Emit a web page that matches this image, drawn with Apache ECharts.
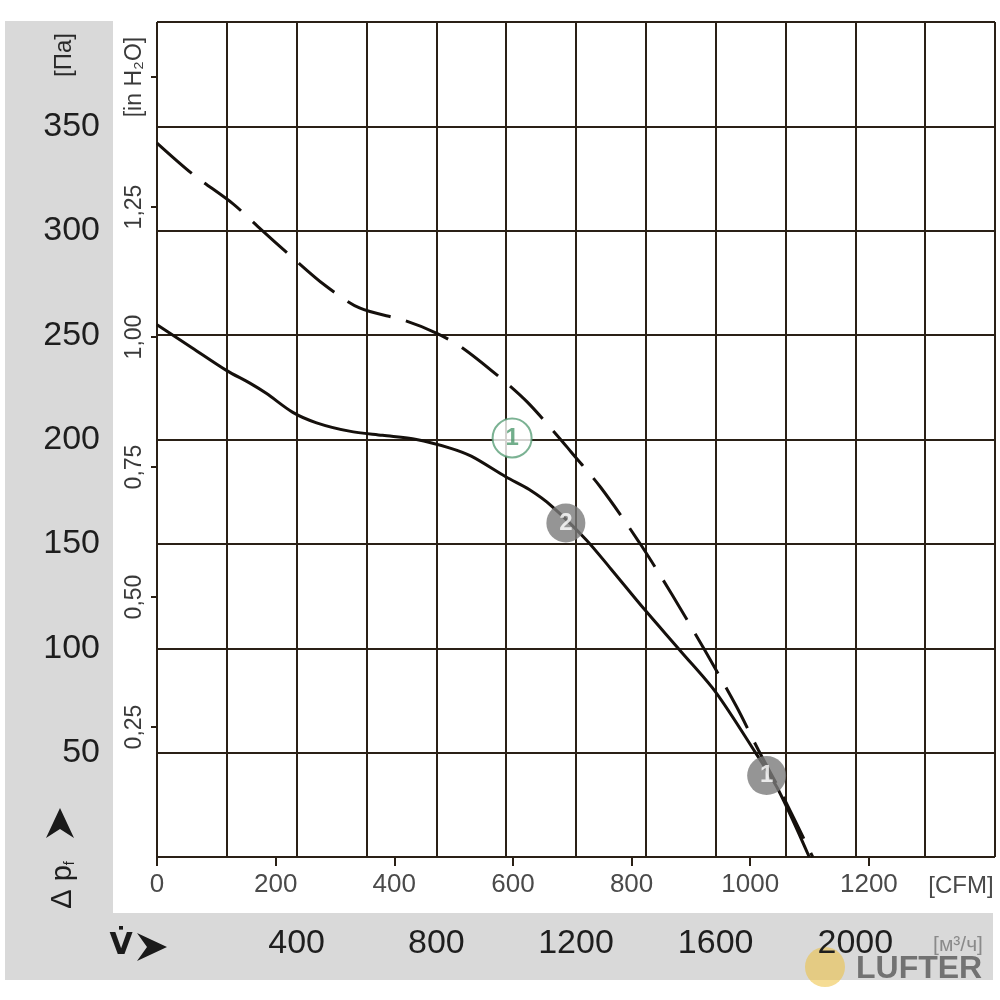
<!DOCTYPE html>
<html><head><meta charset="utf-8">
<script src="https://cdn.jsdelivr.net/npm/echarts@6/dist/echarts.min.js"></script>
<style>html,body{margin:0;padding:0;background:#fff}#c{width:1000px;height:1000px}</style>
</head><body><div id="c"></div>
<script>
const FONT = '"Liberation Sans", Arial, sans-serif';

// Curve 1 (dashed) : flow [m³/h] vs static pressure [Pa]
const curve1Flow     = [0, 103, 217, 289, 389, 480, 580, 709, 800, 874, 980, 1060, 1151, 1186, 1271, 1380, 1474, 1569, 1660, 1723, 1790, 1878];
const curve1Pressure = [342, 327, 313, 302, 287, 274, 263, 257, 251, 244, 230, 218, 201, 194, 177, 151, 126, 99, 72, 51, 30, 0];
// Curve 2 (solid)
const curve2Flow     = [0, 100, 200, 266, 314, 389, 457, 551, 646, 743, 837, 900, 1000, 1066, 1131, 1229, 1300, 1394, 1503, 1600, 1714, 1780, 1868];
const curve2Pressure = [255, 244, 233, 227, 222, 213, 208, 204, 202, 200, 196, 192, 182, 176, 168, 152, 138, 119, 98, 79, 50, 32, 0];
// Operating point markers
const markerNames    = ['1', '2', '1'];
const markerFlow     = [1017, 1171, 1746];
const markerPressure = [200.7, 160, 39];
const markerKinds    = ['outline', 'filled', 'filled'];

// Axis ticks / labels
const paMax = 400, paStep = 50;
const flowMax = 2400, flowStep = 200;
const flowLabels = [400, 800, 1200, 1600, 2000];
const cfmTicks = [0, 200, 400, 600, 800, 1000, 1200];
const inH2OTicks = [0.25, 0.5, 0.75, 1.0, 1.25, 1.5];
const M3H_PER_CFM = 1.69901;
const PA_PER_INH2O = 249.0889;

const zip = (a, b) => a.map((v, i) => [v, b[i]]);
const LINE = '#2a2016';

const markerData = markerNames.map((n, i) => ({
  name: n,
  value: [markerFlow[i], markerPressure[i]],
  itemStyle: markerKinds[i] === 'outline'
    ? { color: '#ffffff', borderColor: '#5a9f78', borderWidth: 2 }
    : { color: '#7a7a7a', borderWidth: 0 },
  label: { color: markerKinds[i] === 'outline' ? '#4f9a6e' : '#ffffff' }
}));

const chart = echarts.init(document.getElementById('c'), null, { renderer: 'canvas' });
chart.setOption({
  animation: false,
  backgroundColor: '#ffffff',
  grid: { left: 157, right: 5, top: 22, bottom: 143, containLabel: false, outerBoundsMode: 'none' },
  xAxis: [
    { type: 'value', min: 0, max: flowMax, interval: flowStep, position: 'bottom',
      axisLine: { show: false }, axisTick: { show: false },
      splitLine: { show: true, lineStyle: { color: LINE, width: 2 } },
      axisLabel: { customValues: flowLabels, margin: 70, fontFamily: FONT, fontSize: 34, color: '#1e1e1e',
        formatter: v => String(v) } },
    { type: 'value', min: 0, max: flowMax / M3H_PER_CFM, position: 'bottom',
      axisLine: { show: false }, splitLine: { show: false },
      axisTick: { show: true, customValues: cfmTicks, length: 9, lineStyle: { color: LINE, width: 2 } },
      axisLabel: { customValues: cfmTicks, margin: 15, fontFamily: FONT, fontSize: 26, color: '#4a4a4a',
        formatter: v => String(v) } }
  ],
  yAxis: [
    { type: 'value', min: 0, max: paMax, interval: paStep, position: 'left',
      axisLine: { show: false }, axisTick: { show: false },
      splitLine: { show: true, lineStyle: { color: LINE, width: 2 } },
      axisLabel: { margin: 57, fontFamily: FONT, fontSize: 34, color: '#1e1e1e',
        formatter: v => (v > 0 && v < paMax) ? String(v) : '' } },
    { type: 'value', min: 0, max: paMax / PA_PER_INH2O, position: 'left', offset: 0,
      axisLine: { show: false }, splitLine: { show: false },
      axisTick: { show: true, customValues: inH2OTicks, length: 6, lineStyle: { color: LINE, width: 2 } },
      axisLabel: { customValues: inH2OTicks, rotate: 90, margin: 11, fontFamily: FONT, fontSize: 23, color: '#3a3a3a',
        formatter: v => Math.abs(v - 1.5) < 1e-6 ? '[in H₂O]' : v.toFixed(2).replace('.', ',') } }
  ],
  series: [
    { type: 'line', name: 'curve1', xAxisIndex: 0, yAxisIndex: 0, data: zip(curve1Flow, curve1Pressure),
      smooth: 0.3, symbol: 'none', z: 5,
      lineStyle: { color: '#15100c', width: 3, type: [46, 16] } },
    { type: 'line', name: 'curve2', xAxisIndex: 0, yAxisIndex: 0, data: zip(curve2Flow, curve2Pressure),
      smooth: 0.3, symbol: 'none', z: 5,
      lineStyle: { color: '#15100c', width: 3, type: 'solid' } },
    { type: 'scatter', name: 'points', xAxisIndex: 0, yAxisIndex: 0, data: markerData,
      symbol: 'circle', symbolSize: 39, z: 10,
      label: { show: true, position: 'inside', formatter: p => p.name,
        fontFamily: FONT, fontWeight: 'bold', fontSize: 24 } }
  ],
  graphic: [
    { type: 'rect', z: -100, shape: { x: 5, y: 21, width: 108, height: 959 }, style: { fill: '#d9d9d9' } },
    { type: 'rect', z: -100, shape: { x: 5, y: 913, width: 988, height: 67 }, style: { fill: '#d9d9d9' } },
    { type: 'text', x: 64, y: 55, rotation: Math.PI / 2,
      style: { text: '[Па]', fontFamily: FONT, fontSize: 24, fill: '#2a2a2a', align: 'center', verticalAlign: 'middle' } },
    { type: 'polygon', shape: { points: [[60, 808], [74, 838], [60, 829], [46, 838]] }, style: { fill: '#1a1a1a' } },
    { type: 'text', x: 63, y: 885, rotation: Math.PI / 2,
      style: { text: '{a|Δ p}{s|f}', align: 'center', verticalAlign: 'middle',
        rich: { a: { fontFamily: FONT, fontSize: 29, fill: '#1e1e1e' },
                s: { fontFamily: FONT, fontSize: 14, fill: '#1e1e1e', padding: [14, 0, 0, 0] } } } },
    { type: 'text', x: 121, y: 946,
      style: { text: 'V̇', fontFamily: 'DejaVu Sans, sans-serif', fontWeight: 'bold', fontSize: 30, fill: '#1a1a1a', align: 'center', verticalAlign: 'middle' } },
    { type: 'polygon', shape: { points: [[137, 933], [167, 947], [137, 961], [147, 947]] }, style: { fill: '#1a1a1a' } },
    { type: 'text', x: 961, y: 886,
      style: { text: '[CFM]', fontFamily: FONT, fontSize: 24, fill: '#4a4a4a', align: 'center', verticalAlign: 'middle' } },
    { type: 'text', x: 958, y: 945,
      style: { text: '[м³/ч]', fontFamily: FONT, fontSize: 21, fill: '#8a8a8a', align: 'center', verticalAlign: 'middle' } },
    { type: 'circle', shape: { cx: 825, cy: 967, r: 20 }, style: { fill: 'rgba(236,192,60,0.55)' } },
    { type: 'text', x: 856, y: 969,
      style: { text: 'LUFTER', fontFamily: FONT, fontWeight: 'bold', fontSize: 32,
        fill: 'rgba(95,95,95,0.85)', align: 'left', verticalAlign: 'middle' } }
  ]
});
</script></body></html>
